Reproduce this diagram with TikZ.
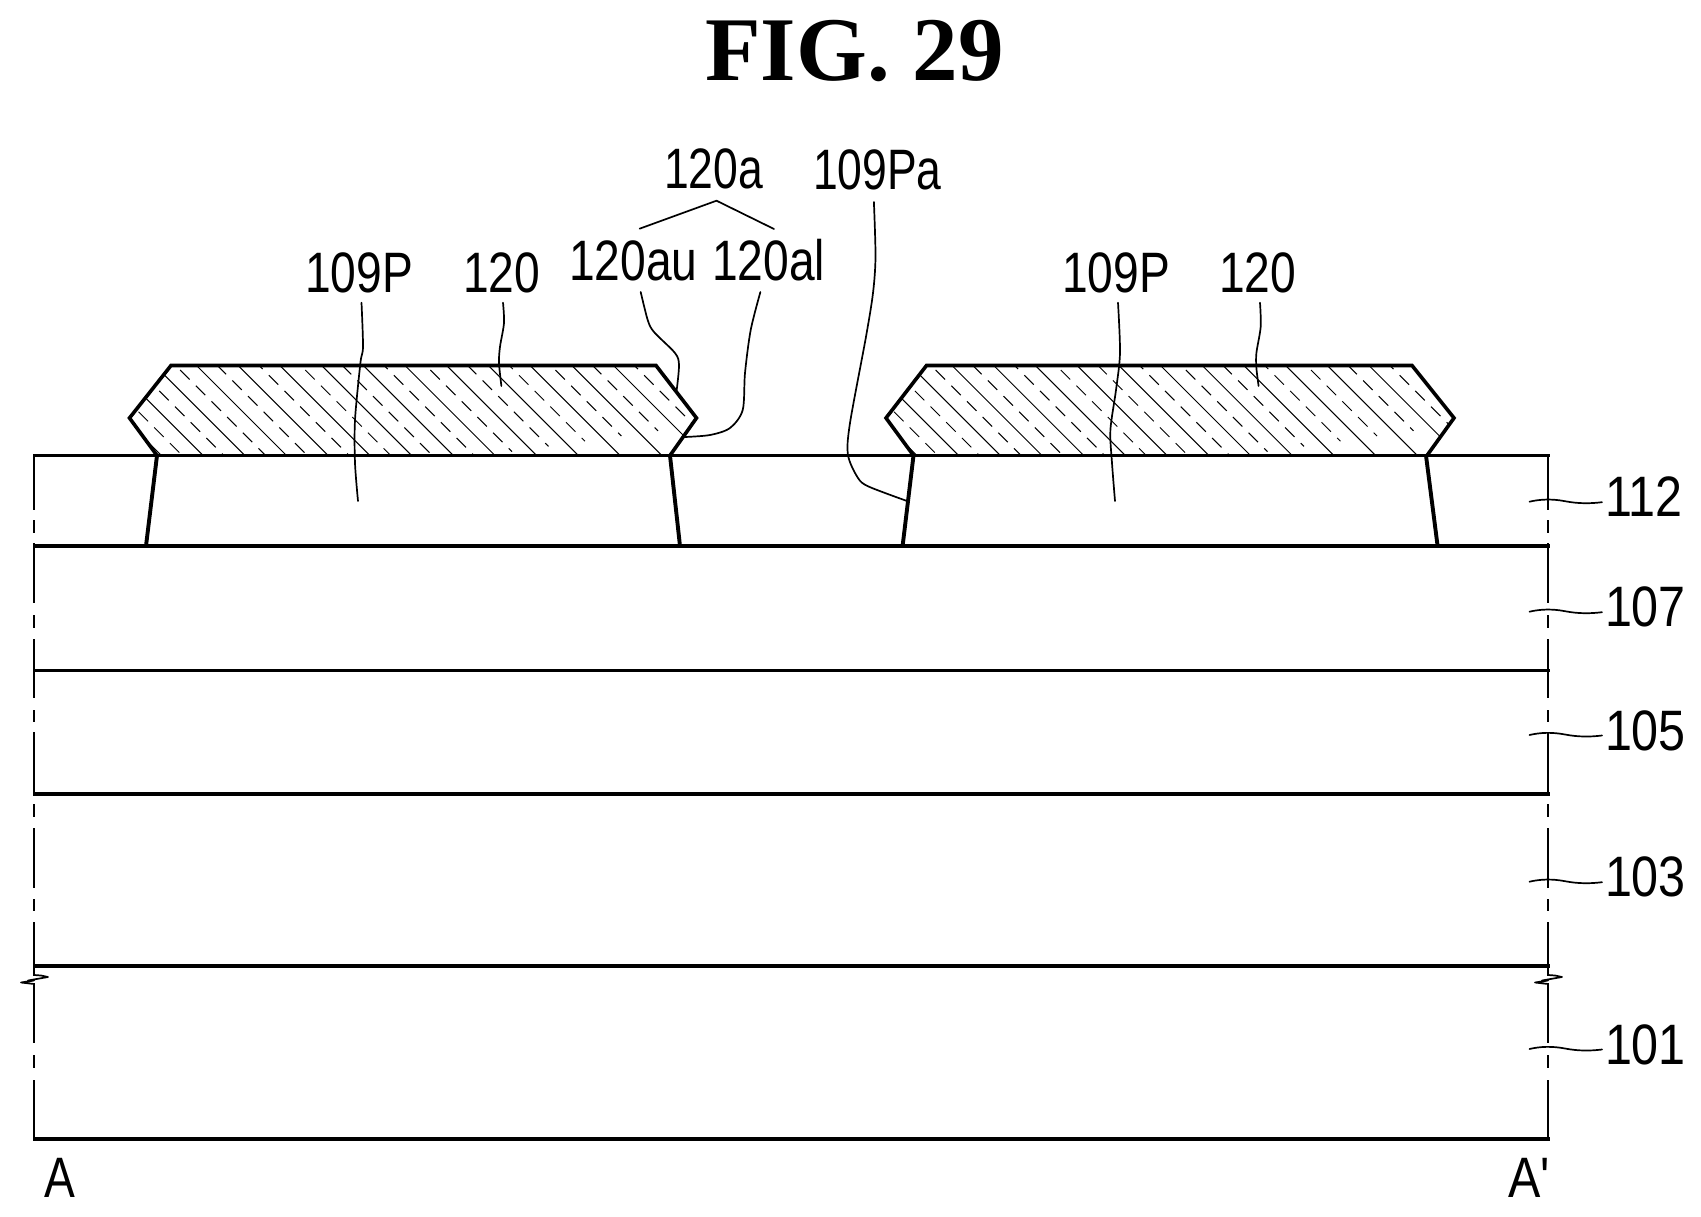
\documentclass[tikz,border=0pt]{standalone}
\usepackage{fontspec}
\setmainfont{Liberation Sans}[FakeStretch=0.81]
\newfontfamily\sidefont{Liberation Sans}[FakeStretch=0.85]
\newfontfamily\uppfont{Liberation Sans}[FakeStretch=0.78]
\newfontfamily\figfont{Liberation Serif}
\tikzset{
  layerline/.style={line width=3.9pt,line cap=butt},
  sideline/.style={line width=1.9pt,line cap=butt},
  moundline/.style={line width=3.6pt,line join=miter,line cap=butt},
  lead/.style={line width=1.7pt,line cap=round},
  hatchline/.style={line width=1pt},
  hatchdash/.style={line width=1pt,dash pattern=on 13.4pt off 8.76pt},
  lbl/.style={anchor=base west,inner sep=0pt,outer sep=0pt,font=\fontsize{57}{60}\selectfont},
  sidelbl/.style={lbl,font=\sidefont\fontsize{57}{60}\selectfont},
  upplbl/.style={lbl,font=\uppfont\fontsize{57}{60}\selectfont},
}
\newcommand{\moundhatch}[2]{% #1 = x offset of the hatch, #2 = polygon
  \begin{scope}
    \clip #2;
    \foreach \k in {-3,...,12}{
      \pgfmathsetmacro{\cc}{-169+41.7*\k+#1}
      \pgfmathsetmacro{\dd}{-189.85+41.7*\k+#1}
      \pgfmathsetmacro{\ys}{323-5.22*\k}
      \draw[hatchline] (\cc+340,340) -- (\cc+480,480);
      \draw[hatchdash] (\dd+\ys,\ys) -- (\dd+\ys+160,\ys+160);
    }
  \end{scope}
}
\begin{document}
\begin{tikzpicture}[x=1pt,y=-1pt]
\useasboundingbox (0,0) rectangle (1701,1217);

% title
\node[anchor=base west,inner sep=0pt,font=\figfont\bfseries\fontsize{91}{95}\selectfont] (title) at (705,81) {FIG. 29};

% hatched mounds
\moundhatch{0}{(171,365.5) -- (129.5,418) -- (157,455.5) -- (670,455.5) -- (696.5,418) -- (656,365.5) -- cycle}
\moundhatch{755.5}{(926.5,365.5) -- (886,418) -- (913.5,455.5) -- (1427,455.5) -- (1454,418) -- (1412,365.5) -- cycle}

% side chain lines
\foreach \ya/\yb in {455/510,520/533,543/603,615/628,639/698,710/722,732/793.7,804/817,828/888,899/911,922/975.5,983/1043,1055/1068,1080/1140}{
  \draw[sideline] (34,\ya) -- (34,\yb);
  \draw[sideline] (1548,\ya) -- (1548,\yb);
}
% break marks
\foreach \xx in {34,1548}{
  \draw[line width=1.7pt,line join=round] (\xx,975) -- (\xx+7,975.5) -- (\xx+14,977) -- (\xx-6,980.5) -- (\xx,980.5) -- (\xx-13,982.5) -- (\xx,984);
}

% layers
\foreach \yy in {455.5,546,670.5,793.7,965.7,1139}{
  \draw[layerline] (33,\yy) -- (1550,\yy);
}

% mound outlines
\draw[moundline] (157,455.5) -- (129.5,418) -- (171,365.5) -- (656,365.5) -- (696.5,418) -- (670,455.5);
\draw[moundline] (913.5,455.5) -- (886,418) -- (926.5,365.5) -- (1412,365.5) -- (1454,418) -- (1427,455.5);

% patterned sides
\draw[layerline] (157,455.5) -- (146,546);
\draw[layerline] (670,455.5) -- (680,546);
\draw[layerline] (913.5,455.5) -- (902.6,546);
\draw[layerline] (1426,455.5) -- (1437.6,546);

% top labels
\node[upplbl] (n120a) at (664,189) {120a};
\node[upplbl] (n109Pa) at (813,190) {109Pa};
\node[lbl] (n120au) at (569,280) {120au};
\node[lbl] (n120al) at (712,280) {120al};
\node[lbl] (n109Pl) at (305,292) {109P};
\node[lbl] (n120l) at (463,292) {120};
\node[lbl] (n109Pr) at (1062,292) {109P};
\node[lbl] (n120r) at (1219,292) {120};
\node[lbl] (nA) at (45,1197) {A};
\node[sidelbl] (nAp) at (1508,1197) {A'};

% bracket
\draw[lead,line join=miter] (639.6,228.7) -- (716.5,200.7) -- (774,229);

% curved leaders
\draw[lead] plot[smooth,tension=0.5] coordinates {(361.5,302.7) (363,346.7) (360.4,363) (355,420) (355,463) (358,501)};
\draw[lead] plot[smooth,tension=0.5] coordinates {(503,302.7) (504,323) (500,346.7) (499,363) (501.4,386)};
\draw[lead] plot[smooth,tension=0.5] coordinates {(640.7,292) (647.7,320) (654,332) (675,353) (679,365) (676.7,390)};
\draw[lead] plot[smooth,tension=0.5] coordinates {(760.4,292) (750.7,330) (745,373) (742.7,410) (730,428) (710,435) (685,437)};
\draw[lead] plot[smooth,tension=0.5] coordinates {(873.9,202) (875.5,256.7) (873,293) (866,336.7) (850,423) (848,455) (858,478) (869,486.7) (907,501)};
\draw[lead] plot[smooth,tension=0.5] coordinates {(1118,302.7) (1120,353) (1116,390) (1110.4,430) (1112,463) (1115,501)};
\draw[lead] plot[smooth,tension=0.5] coordinates {(1260,302.7) (1260.7,326.7) (1256.4,353) (1256.4,368) (1258.6,386)};

% right labels and their wavy leaders
\foreach \nm/\yb in {112/516.7,107/626.7,105/750,103/896.7,101/1064}{
  \node[sidelbl] (n\nm) at (1605,\yb) {\nm};
  \draw[lead] (1529.5,\yb-15) .. controls (1540,\yb-17.5) and (1552,\yb-18) .. (1565,\yb-15.5)
     .. controls (1578,\yb-13) and (1590,\yb-13) .. ([shift={(-3pt,14.5pt)}]n\nm.base west);
}
\end{tikzpicture}
\end{document}
